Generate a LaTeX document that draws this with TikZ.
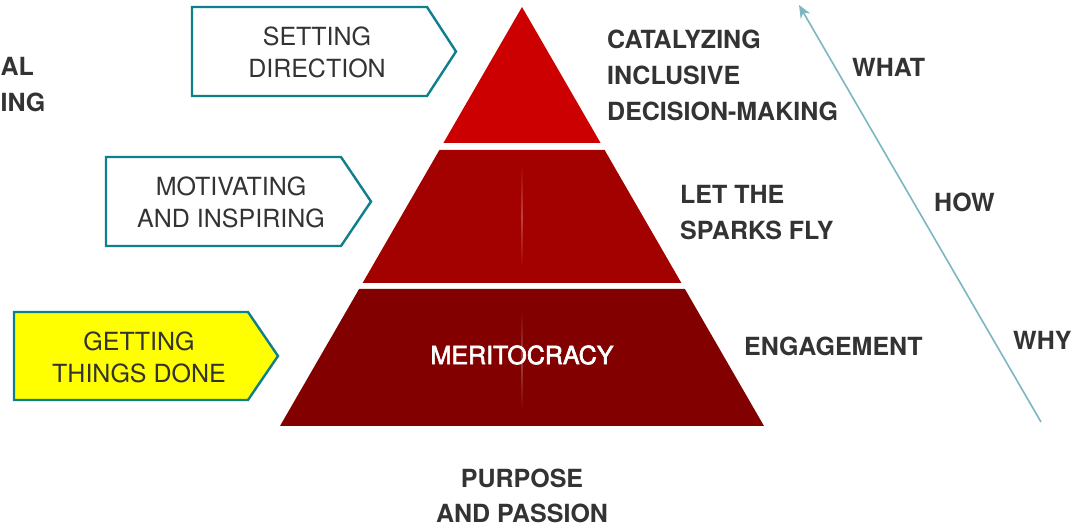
\documentclass[tikz,border=0pt]{standalone}
\usepackage{fontspec}
\setmainfont{TeX Gyre Heros}
\newfontfamily\meritfont[FakeBold=2.5]{TeX Gyre Heros}
\usetikzlibrary{arrows.meta}
\definecolor{redA}{HTML}{CC0000}
\definecolor{redB}{HTML}{A30000}
\definecolor{redC}{HTML}{820000}
\definecolor{redBl}{HTML}{C04040}
\definecolor{redCl}{HTML}{A04040}
\definecolor{teal}{HTML}{0F7F8C}
\definecolor{arrowc}{HTML}{7DB6C2}
\definecolor{txt}{HTML}{333333}
\definecolor{yel}{HTML}{FFFF00}
\tikzset{
  boxshape/.style={draw=teal, line width=2.4pt, line join=miter},
  boxtext/.style={text=txt, align=center, inner sep=0pt, font=\fontsize{25}{32}\selectfont},
  lbl/.style={text=txt, align=left, inner sep=0pt, anchor=west, font=\bfseries\fontsize{25}{36}\selectfont},
  axlbl/.style={text=txt, inner sep=0pt, anchor=west, font=\bfseries\fontsize{25}{30}\selectfont},
}
\begin{document}
\begin{tikzpicture}[x=1pt,y=-1pt]
\useasboundingbox (0,0) rectangle (1085,526);
% pyramid
\fill[redA] (522,7) -- (600.6,143) -- (443.4,143) -- cycle;
\fill[redB] (439.4,150) -- (604.6,150) -- (681.4,283) -- (362.6,283) -- cycle;
\fill[redC] (359.1,289) -- (684.9,289) -- (764,426) -- (280,426) -- cycle;
\shade[top color=redB, bottom color=redB, middle color=redBl] (521.2,165) rectangle (522.8,268);
\shade[top color=redC, bottom color=redC, middle color=redCl] (521.2,310) rectangle (522.8,410);
% arrow boxes
\draw[boxshape, fill=white] (192,7) -- (427,7) -- (456,51.5) -- (427,96) -- (192,96) -- cycle;
\draw[boxshape, fill=white] (106,157) -- (341,157) -- (371,201.5) -- (341,246) -- (106,246) -- cycle;
\draw[boxshape, fill=yel] (14,312) -- (248,312) -- (278,356) -- (248,400) -- (14,400) -- cycle;
\node[boxtext] (setdir) at (317,52) {SETTING\\DIRECTION};
\node[boxtext] (motiv) at (231,202) {MOTIVATING\\AND INSPIRING};
\node[boxtext] (getting) at (139,357) {GETTING\\THINGS DONE};
% pyramid text
\node[text=white, inner sep=0pt, font=\meritfont\fontsize{25}{30}\selectfont] (merit) at (522,355) {MERITOCRACY};
\node[text=txt, align=center, inner sep=0pt, font=\bfseries\fontsize{25}{35}\selectfont] (purpose) at (522,496) {PURPOSE\\AND PASSION};
% right labels
\node[lbl] (catal) at (607,75) {CATALYZING\\INCLUSIVE\\DECISION-MAKING};
\node[lbl] (sparks) at (680,213) {LET THE\\SPARKS FLY};
\node[lbl] (engage) at (744,346) {ENGAGEMENT};
% left cut labels
\node[text=txt, inner sep=0pt, anchor=west, font=\bfseries\fontsize{25}{30}\selectfont] (al) at (0.5,66) {AL};
\node[text=txt, inner sep=0pt, anchor=west, font=\bfseries\fontsize{25}{30}\selectfont] (ing) at (0.5,102) {ING};
% axis
\coordinate (axs) at (1041,422);
\coordinate (axe) at (799,5);
\draw[arrowc, line width=1.6pt, -{Stealth[length=13pt,width=11pt]}] (axs) -- (axe);
\node[axlbl] (what) at (852,67) {WHAT};
\node[axlbl] (how) at (934,202) {HOW};
\node[axlbl] (why) at (1013,340) {WHY};
\end{tikzpicture}
\end{document}
